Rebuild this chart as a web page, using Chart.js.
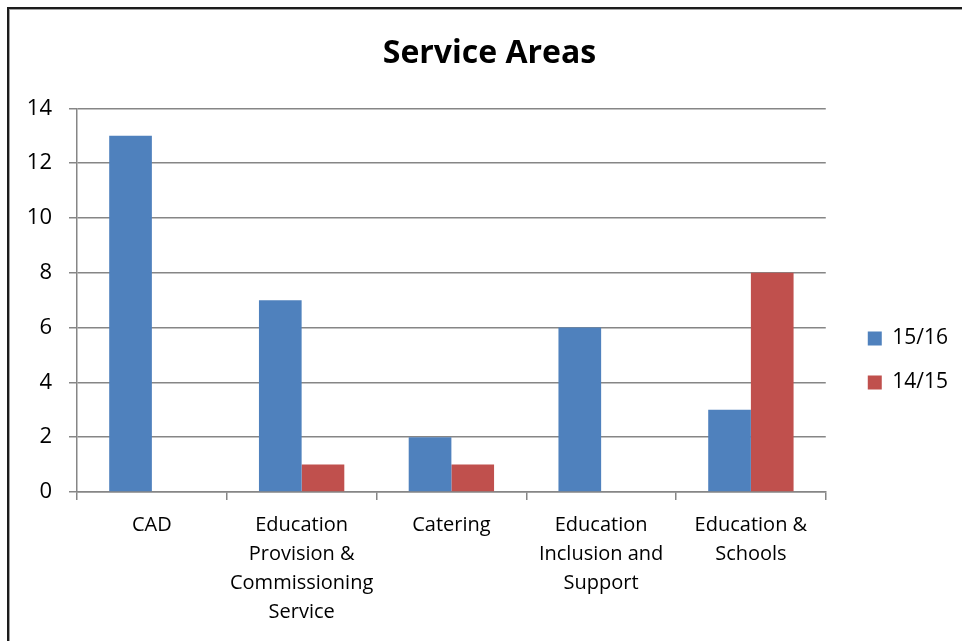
<!DOCTYPE html>
<html>
<head>
<meta charset="utf-8">
<title>Service Areas</title>
<script src="https://cdn.jsdelivr.net/npm/chart.js@4.4.1/dist/chart.umd.min.js"></script>
<style>
    html, body {
        margin: 0;
        padding: 0;
        background: #ffffff;
    }
    .chart-wrap {
        position: relative;
        width: 962px;
        height: 641px;
        overflow: hidden;
    }
    /* frame around the chart object (only top and left edges are visible) */
    .frame {
        position: absolute;
        left: 7px;
        top: 7px;
        width: 1000px;
        height: 700px;
        border-top: 2px solid #1c1c1c;
        border-left: 2px solid #1c1c1c;
        box-shadow: inset 1px 1px 0 #a0a0a0;
    }
    #serviceChart {
        position: absolute;
        left: 0;
        top: 0;
    }
</style>
</head>
<body>
<div class="chart-wrap">
    <div class="frame"></div>
    <canvas id="serviceChart" width="962" height="641"></canvas>
</div>
<script>
const categories = [
    'CAD',
    ['Education', 'Provision &', 'Commissioning', 'Service'],
    'Catering',
    ['Education', 'Inclusion and', 'Support'],
    ['Education &', 'Schools']
];
const values1516 = [13, 7, 2, 6, 3];
const values1415 = [0, 1, 1, 0, 8];
const yTicks = [0, 2, 4, 6, 8, 10, 12, 14];

const FONT = "'Open Sans', 'DejaVu Sans', sans-serif";
const GRID = '#868686';

// move the legend and title over to where they sit in the original workbook
const layoutNudge = {
    id: 'layoutNudge',
    afterLayout(chart) {
        const lg = chart.legend;
        if (lg) {
            lg.left += 19; lg.right += 19;
            lg.top += 40; lg.bottom += 40;
        }
        const tb = chart.titleBlock;
        if (tb) {
            tb.left += 20; tb.right += 20;
        }
    }
};

const ctx = document.getElementById('serviceChart').getContext('2d');
const chart = new Chart(ctx, {
    type: 'bar',
    data: {
        labels: categories,
        datasets: [
            {
                label: '15/16',
                data: values1516,
                backgroundColor: '#4F81BD',
                categoryPercentage: 0.57,
                barPercentage: 1.0
            },
            {
                label: '14/15',
                data: values1415,
                backgroundColor: '#C0504D',
                categoryPercentage: 0.57,
                barPercentage: 1.0
            }
        ]
    },
    options: {
        responsive: false,
        animation: false,
        layout: {
            padding: { left: 0, right: 23, top: 0, bottom: 0 }
        },
        scales: {
            x: {
                grid: {
                    display: true,
                    drawOnChartArea: false,
                    drawTicks: true,
                    tickLength: 8,
                    color: GRID,
                    lineWidth: 1.5
                },
                border: { display: true, color: GRID, width: 1.5 },
                ticks: {
                    color: '#000000',
                    padding: 11,
                    maxRotation: 0,
                    autoSkip: false,
                    font: { family: FONT, size: 20, lineHeight: 1.45 }
                },
                afterFit(scale) {
                    scale.height = 149;
                }
            },
            y: {
                min: 0,
                max: 14,
                afterBuildTicks(scale) {
                    scale.ticks = yTicks.map(v => ({ value: v }));
                },
                grid: {
                    color: GRID,
                    lineWidth: 1.5,
                    drawTicks: true,
                    tickLength: 8
                },
                border: { display: true, color: GRID, width: 1.5 },
                ticks: {
                    color: '#000000',
                    padding: 17,
                    font: { family: FONT, size: 22 }
                },
                afterFit(scale) {
                    scale.width = 77;
                }
            }
        },
        plugins: {
            title: {
                display: true,
                text: 'Service Areas',
                color: '#000000',
                font: { family: FONT, size: 32, weight: 'bold' },
                padding: { top: 35, bottom: 35 }
            },
            legend: {
                display: true,
                position: 'right',
                align: 'center',
                labels: {
                    color: '#000000',
                    boxWidth: 14,
                    boxHeight: 14,
                    padding: 23,
                    font: { family: FONT, size: 21 }
                }
            },
            tooltip: { enabled: false }
        }
    },
    plugins: [layoutNudge]
});
</script>
</body>
</html>
